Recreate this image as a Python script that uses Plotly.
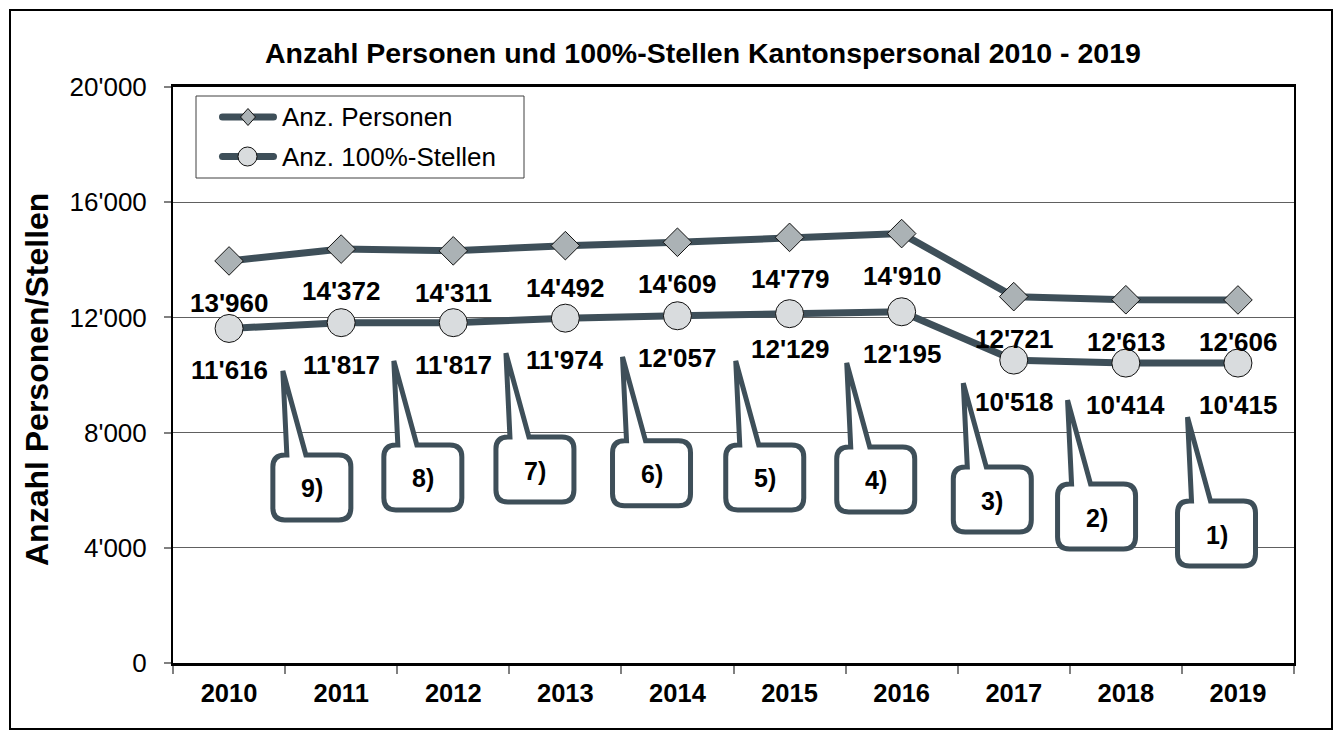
import plotly.graph_objects as go

# --- data -----------------------------------------------------------------
years = ["2010", "2011", "2012", "2013", "2014", "2015", "2016", "2017", "2018", "2019"]
personen = [13960, 14372, 14311, 14492, 14609, 14779, 14910, 12721, 12613, 12606]
stellen = [11616, 11817, 11817, 11974, 12057, 12129, 12195, 10518, 10414, 10415]

y_ticks = [0, 4000, 8000, 12000, 16000, 20000]

# footnote callouts: label and the point (category index, value) the tail points to
callout_labels = ["9)", "8)", "7)", "6)", "5)", "4)", "3)", "2)", "1)"]
callout_tip_x = [0.48, 1.47, 2.47, 3.51, 4.52, 5.51, 6.55, 7.48, 8.55]
callout_tip_y = [10140, 10490, 10760, 10630, 10490, 10420, 9720, 9130, 8540]

# --- layout geometry --------------------------------------------------------
W, H = 1339, 735
ML, MR, MT, MB = 173, 45, 87, 72
PW, PH = W - ML - MR, H - MT - MB
X_RANGE = [-0.5, len(years) - 0.5]
Y_RANGE = [0, 20000]

LINE_COL = "#3e4f59"
FONT = "Liberation Sans, Arial, sans-serif"


def fmt(v):
    return f"{v:,}".replace(",", "'")


def px_to_paper(px, py):
    return (px - ML) / PW, (H - MB - py) / PH


def data_to_px(x, y):
    px = ML + (x - X_RANGE[0]) / (X_RANGE[1] - X_RANGE[0]) * PW
    py = MT + (Y_RANGE[1] - y) / (Y_RANGE[1] - Y_RANGE[0]) * PH
    return px, py


def path_from_px(cmds):
    """cmds: list of (letter, [(px, py), ...]) -> SVG path in paper units."""
    out = []
    for c, pts in cmds:
        if c == "Z":
            out.append("Z")
            continue
        coords = " ".join("%.5f,%.5f" % px_to_paper(*p) for p in pts)
        out.append(c + coords)
    return " ".join(out)


fig = go.Figure()

fig.add_trace(go.Scatter(
    x=list(range(len(years))), y=personen, name="Anz. Personen",
    mode="lines+markers",
    line=dict(color=LINE_COL, width=7),
    marker=dict(symbol="diamond", size=22, color="#abb2b5",
                line=dict(color="#111111", width=1)),
    showlegend=False,
))
fig.add_trace(go.Scatter(
    x=list(range(len(years))), y=stellen, name="Anz. 100%-Stellen",
    mode="lines+markers",
    line=dict(color=LINE_COL, width=7),
    marker=dict(symbol="circle", size=28, color="#d9dcde",
                line=dict(color="#111111", width=1)),
    showlegend=False,
))

annotations = []
shapes = []

# value labels under each point
label_shift = {("stellen", 5): -35}
for name, series in (("personen", personen), ("stellen", stellen)):
    for i, v in enumerate(series):
        annotations.append(dict(
            x=i, y=v, xref="x", yref="y", text=fmt(v), showarrow=False,
            yshift=label_shift.get((name, i), -42),
            font=dict(family=FONT, size=26, color="black", weight="bold"),
        ))

# callout boxes with tail
BW, BH, R = 78, 65, 12
for lab, tx, ty in zip(callout_labels, callout_tip_x, callout_tip_y):
    tpx, tpy = data_to_px(tx, ty)
    L, T = tpx - 10, tpy + 84
    cmds = [
        ("M", [(tpx, tpy)]),
        ("L", [(L + 33, T)]),
        ("L", [(L + BW - R, T)]),
        ("Q", [(L + BW, T), (L + BW, T + R)]),
        ("L", [(L + BW, T + BH - R)]),
        ("Q", [(L + BW, T + BH), (L + BW - R, T + BH)]),
        ("L", [(L + R, T + BH)]),
        ("Q", [(L, T + BH), (L, T + BH - R)]),
        ("L", [(L, T + R)]),
        ("Q", [(L, T), (L + R, T)]),
        ("L", [(L + 14, T)]),
        ("Z", []),
    ]
    shapes.append(dict(type="path", xref="paper", yref="paper",
                       path=path_from_px(cmds), fillcolor="white",
                       line=dict(color=LINE_COL, width=5), layer="above"))
    cx, cy = px_to_paper(L + BW / 2, T + BH / 2 + 1)
    annotations.append(dict(
        x=cx, y=cy, xref="paper", yref="paper", text=lab, showarrow=False,
        xanchor="center", yanchor="middle",
        font=dict(family=FONT, size=25, color="black", weight="bold"),
    ))

# legend box drawn by hand
lx0, ly0 = px_to_paper(196, 96)
lx1, ly1 = px_to_paper(524, 178)
shapes.append(dict(type="rect", xref="paper", yref="paper",
                   x0=lx0, y0=ly1, x1=lx1, y1=ly0, fillcolor="white",
                   line=dict(color="#404040", width=1), layer="above"))


def pill(x0, x1, yc, r=3.5):
    return path_from_px([
        ("M", [(x0 + r, yc - r)]),
        ("L", [(x1 - r, yc - r)]),
        ("Q", [(x1, yc - r), (x1, yc)]),
        ("Q", [(x1, yc + r), (x1 - r, yc + r)]),
        ("L", [(x0 + r, yc + r)]),
        ("Q", [(x0, yc + r), (x0, yc)]),
        ("Q", [(x0, yc - r), (x0 + r, yc - r)]),
        ("Z", []),
    ])


legend_rows = [("Anz. Personen", 117, "diamond"), ("Anz. 100%-Stellen", 156.5, "circle")]
for text, yc, sym in legend_rows:
    shapes.append(dict(type="path", xref="paper", yref="paper", path=pill(219, 277, yc),
                       fillcolor=LINE_COL, line=dict(width=0), layer="above"))
    if sym == "diamond":
        shapes.append(dict(type="path", xref="paper", yref="paper",
                           path=path_from_px([("M", [(248, yc - 8.5)]), ("L", [(255.5, yc)]),
                                              ("L", [(248, yc + 8.5)]), ("L", [(240.5, yc)]),
                                              ("Z", [])]),
                           fillcolor="#abb2b5", line=dict(color="#111111", width=1),
                           layer="above"))
    else:
        cx0, cy0 = px_to_paper(238, yc + 9.5)
        cx1, cy1 = px_to_paper(257, yc - 9.5)
        shapes.append(dict(type="circle", xref="paper", yref="paper",
                           x0=cx0, y0=cy0, x1=cx1, y1=cy1, fillcolor="#d9dcde",
                           line=dict(color="#111111", width=1), layer="above"))
    tx, ty = px_to_paper(280, yc)
    annotations.append(dict(x=tx, y=ty, xref="paper", yref="paper", text=text,
                            showarrow=False, xanchor="left", yanchor="middle",
                            font=dict(family=FONT, size=26, color="black")))

# title and y-axis title
tx, ty = px_to_paper(703, 53)
annotations.append(dict(x=tx, y=ty, xref="paper", yref="paper",
                        text="Anzahl Personen und 100%-Stellen Kantonspersonal 2010 - 2019",
                        showarrow=False, xanchor="center", yanchor="middle",
                        font=dict(family=FONT, size=28.5, color="black", weight="bold")))
ax_, ay_ = px_to_paper(37, 380)
annotations.append(dict(x=ax_, y=ay_, xref="paper", yref="paper",
                        text="Anzahl Personen/Stellen", textangle=-90,
                        showarrow=False, xanchor="center", yanchor="middle",
                        font=dict(family=FONT, size=32, color="black", weight="bold")))

# outer frame
fx0, fy0 = px_to_paper(10, 729)
fx1, fy1 = px_to_paper(1332, 10)
shapes.append(dict(type="rect", xref="paper", yref="paper", x0=fx0, y0=fy0,
                   x1=fx1, y1=fy1, line=dict(color="black", width=2), layer="below"))

fig.update_layout(
    width=W, height=H,
    margin=dict(l=ML, r=MR, t=MT, b=MB, autoexpand=False),
    paper_bgcolor="white", plot_bgcolor="white",
    font=dict(family=FONT, color="black"),
    showlegend=False,
    annotations=annotations, shapes=shapes,
    xaxis=dict(
        range=X_RANGE, tickmode="array", tickvals=list(range(len(years))),
        ticktext=years, ticks="", showgrid=False, zeroline=False,
        showline=True, linecolor="black", linewidth=2.5, mirror=True,
        tickfont=dict(family=FONT, size=25.5, color="black", weight="bold"),
        ticklabelstandoff=6,
        minor=dict(tickmode="array",
                   tickvals=[i - 0.5 for i in range(len(years) + 1)],
                   ticks="outside", ticklen=8, tickcolor="#808080", tickwidth=1.5,
                   showgrid=False),
    ),
    yaxis=dict(
        range=Y_RANGE, tickmode="array", tickvals=y_ticks,
        ticktext=[fmt(v) for v in y_ticks], ticks="outside", ticklen=7,
        tickcolor="#808080", tickwidth=1.5,
        showgrid=True, gridcolor="#606060", gridwidth=1, zeroline=False,
        showline=True, linecolor="black", linewidth=2, mirror=True,
        tickfont=dict(family=FONT, size=26, color="black"),
        ticklabelstandoff=12,
    ),
)

fig.write_html("out.html")
